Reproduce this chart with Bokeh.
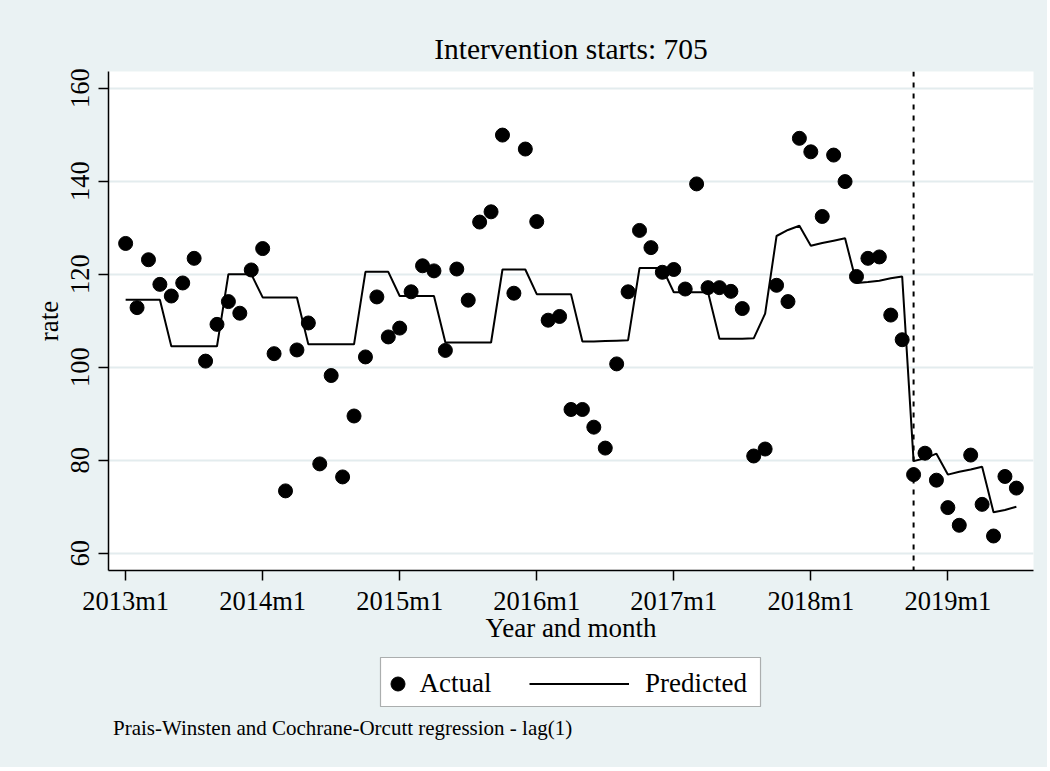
from bokeh.plotting import figure
from bokeh.layouts import column
from bokeh.models import (FixedTicker, Span, Legend, LegendItem, BoxAnnotation,
                          Label, Range1d, ColumnDataSource)
from bokeh.embed import file_html
from bokeh.resources import INLINE

# ---------------- data (Stata monthly index: 636 = 2013m1) ----------------
start_month = 636
intervention = 705

actual = [126.6, 112.8, 123.1, 117.8, 115.3, 118.1, 123.4, 101.3, 109.2, 114.1, 111.6, 120.9,
          125.5, 102.9, 73.4, 103.7, 109.5, 79.2, 98.2, 76.4, 89.5, 102.2, 115.1, 106.5,
          108.4, 116.2, 121.8, 120.7, 103.6, 121.1, 114.4, 131.2, 133.4, 149.9, 115.9, 146.9,
          131.3, 110.1, 110.9, 90.9, 90.9, 87.1, 82.6, 100.7, 116.2, 129.4, 125.7, 120.4,
          121.0, 116.8, 139.4, 117.1, 117.1, 116.3, 112.6, 80.9, 82.4, 117.6, 114.1, 149.2,
          146.3, 132.4, 145.6, 139.9, 119.5, 123.4, 123.7, 111.2, 105.9, 76.9, 81.5, 75.7,
          69.8, 66.0, 81.1, 70.5, 63.7, 76.5, 74.0]

predicted = [114.5, 114.5, 114.5, 114.5, 104.5, 104.5, 104.5, 104.5, 104.5, 120.0, 120.0, 120.0,
             115.0, 115.0, 115.0, 115.0, 104.9, 104.9, 104.9, 104.9, 104.9, 120.5, 120.5, 120.5,
             115.3, 115.3, 115.3, 115.3, 105.3, 105.3, 105.3, 105.3, 105.3, 121.0, 121.0, 121.0,
             115.7, 115.7, 115.7, 115.7, 105.5, 105.5, 105.6, 105.7, 105.8, 121.3, 121.3, 121.3,
             116.1, 116.1, 116.1, 116.1, 106.1, 106.1, 106.1, 106.2, 111.5, 128.2, 129.5, 130.4,
             126.1, 126.7, 127.2, 127.7, 118.1, 118.3, 118.6, 119.1, 119.5, 79.8, 80.4, 81.4,
             76.9, 77.5, 78.0, 78.6, 68.8, 69.3, 70.0]

months = [start_month + i for i in range(len(actual))]

x_tick_pos = [636, 648, 660, 672, 684, 696, 708]
x_tick_labels = ["2013m1", "2014m1", "2015m1", "2016m1", "2017m1", "2018m1", "2019m1"]
y_ticks = [60, 80, 100, 120, 140, 160]

title_text = "Intervention starts: %d" % intervention
note_text = "Prais-Winsten and Cochrane-Orcutt regression - lag(1)"
legend_labels = ["Actual", "Predicted"]

# ---------------- styling ----------------
BG = "#EAF2F3"
GRID = "#E3ECEE"
FONT = "Liberation Serif"
FL, FW, FR = 108, 925, 14          # frame left border, frame width, right border
TOP, FH, BOT = 71, 499, 85
H2 = 767 - (TOP + FH + BOT)

src = ColumnDataSource(dict(t=months, actual=actual, predicted=predicted))

p = figure(frame_width=FW, frame_height=FH,
           min_border_left=FL, min_border_right=FR, min_border_top=TOP, min_border_bottom=BOT,
           x_range=Range1d(634.5, 715.5), y_range=Range1d(56.28, 163.57),
           output_backend="svg", toolbar_location=None,
           background_fill_color="white", border_fill_color=BG,
           outline_line_color=None)

# title
p.title.text = title_text
p.title.align = "center"
p.title.text_font = FONT
p.title.text_font_size = "29.5px"
p.title.text_font_style = "normal"
p.title.text_color = "black"
p.title.standoff = 13

# axes
for ax in (p.xaxis, p.yaxis):
    ax.axis_line_color = "black"
    ax.axis_line_width = 1.5
    ax.major_tick_line_color = "black"
    ax.major_tick_line_width = 1.5
    ax.major_tick_out = 10
    ax.major_tick_in = 0
    ax.minor_tick_line_color = None
    ax.major_label_text_font = FONT
    ax.major_label_text_font_size = "26.5px"
    ax.major_label_text_color = "black"
    ax.axis_label_text_font = FONT
    ax.axis_label_text_font_size = "27px"
    ax.axis_label_text_font_style = "normal"
    ax.axis_label_text_color = "black"

p.xaxis.ticker = FixedTicker(ticks=x_tick_pos)
p.xaxis.major_label_overrides = dict(zip(x_tick_pos, x_tick_labels))
p.xaxis.axis_label = "Year and month"
p.xaxis.major_label_standoff = 5
p.xaxis.axis_label_standoff = -6

p.yaxis.ticker = FixedTicker(ticks=y_ticks)
p.yaxis.major_label_orientation = "vertical"
p.yaxis.axis_label = "rate"
p.yaxis.major_label_standoff = 9
p.yaxis.axis_label_standoff = 5

p.xgrid.grid_line_color = None
p.ygrid.ticker = FixedTicker(ticks=y_ticks)
p.ygrid.grid_line_color = GRID
p.ygrid.grid_line_width = 2

# data
r_act = p.scatter("t", "actual", source=src, size=14, marker="circle",
                  fill_color="black", line_color="black")
r_pred = p.line("t", "predicted", source=src, line_width=2, line_color="black")

p.add_layout(Span(location=intervention, dimension="height", line_color="black",
                  line_width=2, line_dash="5 6"))

# ---------------- legend / note strip (x units = page pixels) ----------------
p2 = figure(frame_width=FW, frame_height=H2, title=None,
            min_border_left=FL, min_border_right=FR, min_border_top=0, min_border_bottom=0,
            x_range=Range1d(FL, FL + FW), y_range=Range1d(0, H2),
            x_axis_location=None, y_axis_location=None,
            output_backend="svg", toolbar_location=None,
            background_fill_color=BG, border_fill_color=BG, outline_line_color=None)
p2.grid.visible = False

nan = float("nan")
k_act = p2.scatter(x=[nan], y=[nan], size=14, marker="circle",
                   fill_color="black", line_color="black")
k_pred = p2.line(x=[nan, nan], y=[nan, nan], line_width=2, line_color="black")

p2.add_layout(BoxAnnotation(left=380, right=760, bottom=H2 - 51, top=H2 - 2,
                            fill_color="white", fill_alpha=1.0,
                            line_color="black", line_width=1.2, level="annotation"))

common = dict(orientation="horizontal", border_line_color=None, background_fill_alpha=0,
              label_text_font=FONT, label_text_font_size="27px", label_text_color="black",
              padding=7, margin=0, glyph_height=35)
legA = Legend(items=[LegendItem(label=legend_labels[0], renderers=[k_act])],
              location=(379.5 - FL, H2 - 46), glyph_width=35, label_standoff=5, **common)
legB = Legend(items=[LegendItem(label=legend_labels[1], renderers=[k_pred])],
              location=(529 - FL, H2 - 46), glyph_width=100, label_standoff=16, **common)
p2.add_layout(legA)
p2.add_layout(legB)

p2.add_layout(Label(x=112.5, y=H2 - 72, text=note_text,
                    text_font=FONT, text_font_size="21px", text_color="black",
                    text_baseline="alphabetic", text_align="left"))

layout = column(p, p2, spacing=0)
layout.styles = {"background-color": BG}
open("out.html", "w").write(file_html(layout, INLINE))
